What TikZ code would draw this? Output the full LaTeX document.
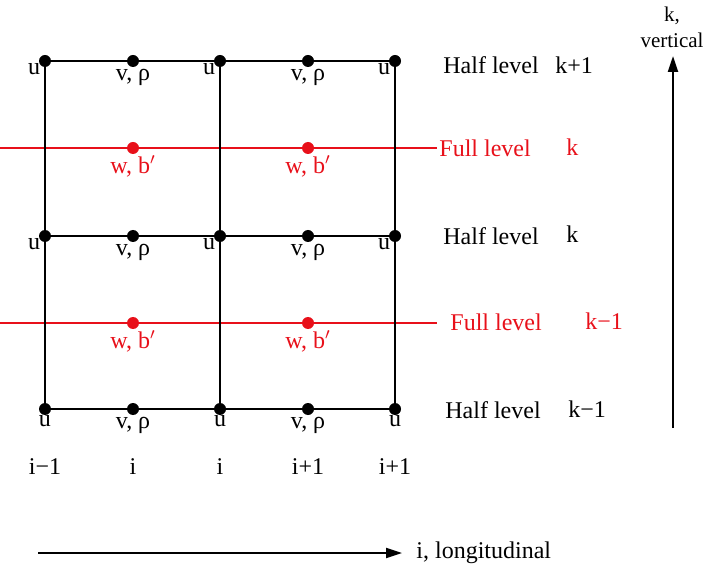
\documentclass[tikz,border=0pt]{standalone}
\usepackage{fontspec}
\setmainfont{Liberation Serif}
\usetikzlibrary{arrows.meta,positioning}
\definecolor{fullred}{HTML}{E8101A}
\tikzset{
  pt/.style={circle,fill=black,inner sep=0pt,minimum size=6pt},
  rpt/.style={pt,fill=fullred},
  gridln/.style={line width=1.1pt,black},
  fullln/.style={line width=1pt,fullred},
  lab/.style={font=\fontsize{12}{14}\selectfont,text=black,inner sep=1pt},
  rlab/.style={lab,text=fullred},
  axis/.style={-{Triangle[length=8pt,width=5pt]},line width=1.1pt}
}
\begin{document}
\begin{tikzpicture}[x=0.5pt,y=0.5pt]
  \useasboundingbox (0,0) rectangle (706,568);
  % full levels (red)
  \coordinate (fkw) at (0,420);   \coordinate (fke) at (437,420);
  \coordinate (fmw) at (0,245);   \coordinate (fme) at (437,245);
  \draw[fullln] (fkw) -- (fke);
  \draw[fullln] (fmw) -- (fme);
  % half levels: u and v,rho points
  \foreach \r/\y in {t/507,m/332,b/159}{
    \node[pt] (u0\r) at (45,\y) {};
    \node[pt] (u1\r) at (220,\y) {};
    \node[pt] (u2\r) at (395,\y) {};
    \node[pt] (v0\r) at (133,\y) {};
    \node[pt] (v1\r) at (308,\y) {};
  }
  % w,b' points on full levels
  \foreach \r/\y in {k/420,m/245}{
    \node[rpt] (w0\r) at (133,\y) {};
    \node[rpt] (w1\r) at (308,\y) {};
  }
  % grid
  \foreach \r in {t,m,b}{
    \draw[gridln] (u0\r) -- (v0\r) -- (u1\r) -- (v1\r) -- (u2\r);}
  \foreach \c in {0,1,2}{
    \draw[gridln] (u\c t) -- (u\c m) -- (u\c b);}
  % point labels
  \foreach \c in {0,1,2}{
    \node[lab,below left=-2pt and -1pt of u\c t] {u};
    \node[lab,below left=-2pt and -1pt of u\c m] {u};
    \node[lab,below=-1pt of u\c b] {u};
  }
  \foreach \c in {0,1}{
    \foreach \r in {t,m,b}{
      \node[lab,below=-0.5pt of v\c\r] {v, ρ};}
    \foreach \r in {k,m}{
      \node[rlab,below=-0.5pt of w\c\r] {w, b$'$};}
  }
  % level labels
  \node[lab,anchor=west] (hk1) at (441,503) {Half level};
  \node[lab,anchor=west] at (553,503) {k+1};
  \node[rlab,anchor=west] (fk) at (fke) {Full level};
  \node[rlab,anchor=west] at (564,421) {k};
  \node[lab,anchor=west] (hk) at (441,332) {Half level};
  \node[lab,anchor=west] at (564,334) {k};
  \node[rlab,anchor=west] (fk1) at (448,246) {Full level};
  \node[rlab,anchor=west] at (583,247) {k−1};
  \node[lab,anchor=west] (hkm) at (443,158) {Half level};
  \node[lab,anchor=west] at (566,159) {k−1};
  % column indices
  \node[lab] (im) at (45,101) {i−1};
  \node[lab] (ia) at (133,101) {i};
  \node[lab] (ib) at (220,101) {i};
  \node[lab] (ic) at (308,101) {i+1};
  \node[lab] (id) at (395,101) {i+1};
  % axes
  \coordinate (itail) at (38,15);  \coordinate (ihead) at (402,15);
  \draw[axis] (itail) -- (ihead);
  \node[lab,right=6pt of ihead] (ilab) {i, longitudinal};
  \coordinate (ktail) at (673,140);  \coordinate (khead) at (673,512);
  \draw[axis] (ktail) -- (khead);
  \node[lab,font=\fontsize{10.5}{13}\selectfont,align=center] (klab) at (672,541) {k,\\vertical};
\end{tikzpicture}
\end{document}
